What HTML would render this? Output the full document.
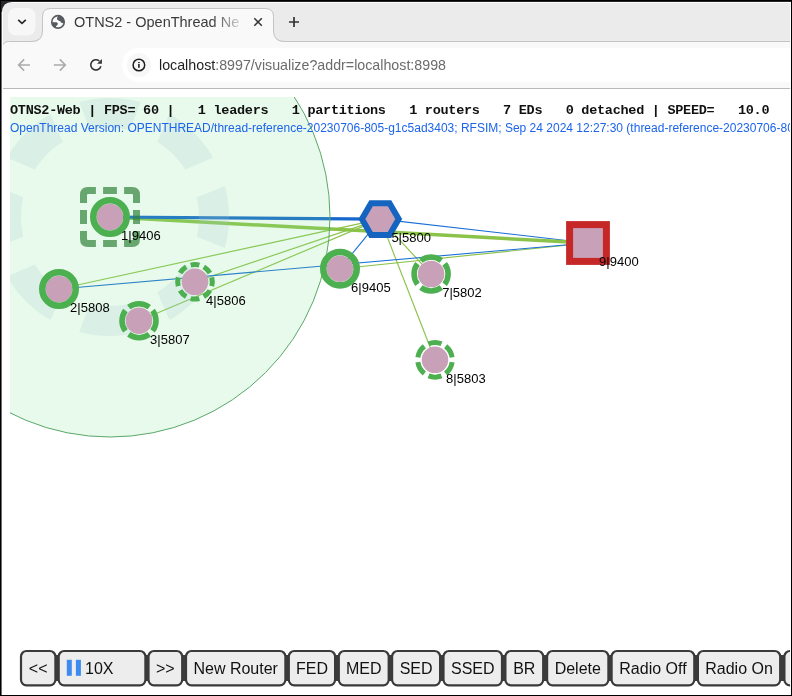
<!DOCTYPE html>
<html><head><meta charset="utf-8"><title>OTNS2</title>
<style>
html,body{margin:0;padding:0;width:792px;height:696px;overflow:hidden;background:#fff;}
svg{position:absolute;left:0;top:0;display:block;will-change:transform;}
text{font-family:"Liberation Sans",sans-serif;}
.mono{font-family:"Liberation Mono",monospace;font-weight:bold;}
</style></head><body>
<svg width="792" height="696" viewBox="0 0 792 696">
<!-- ===== window frame / tab strip ===== -->
<rect x="0" y="0" width="792" height="696" fill="#000"/>
<rect x="2" y="2" width="789" height="693" fill="#fff"/>
<rect x="2" y="2" width="789" height="40" fill="#ebebeb"/>

<!-- toolbar -->
<rect x="2" y="42" width="789" height="46" fill="#f9f9f9"/>
<rect x="2" y="88" width="789" height="1" fill="#b9b9b9"/>
<!-- active tab -->
<path d="M2 43 L2 48 Q2.5 42 8.5 42 Z" fill="#ebebeb"/>
<path d="M30 43 Q42.5 43 42.5 31 L42.5 16.5 Q42.5 8.5 50.5 8.5 L265.5 8.5 Q273.5 8.5 273.5 16.5 L273.5 31 Q273.5 43 286 43 Z" fill="#f9f9f9"/>
<path d="M2 48 Q2.5 41.5 8.5 41.5 L31 41.5 Q42.5 41.5 42.5 31 L42.5 16.5 Q42.5 8.5 50.5 8.5 L265.5 8.5 Q273.5 8.5 273.5 16.5 L273.5 31 Q273.5 41.5 285 41.5 L791 41.5" fill="none" stroke="#c4c4c4" stroke-width="1"/>
<!-- dropdown button -->
<rect x="8" y="8" width="27.5" height="27.5" rx="8" fill="#f7f7f7"/>
<path d="M18.2 19.8 L22 23.4 L25.8 19.8" fill="none" stroke="#2b2b2b" stroke-width="1.7"/>
<!-- globe -->
<clipPath id="gclip"><circle cx="58" cy="21.9" r="6.4"/></clipPath>
<circle cx="58" cy="21.9" r="6.25" fill="none" stroke="#575b61" stroke-width="1.6"/>
<g clip-path="url(#gclip)" fill="#575b61">
<path d="M58.8 14.5 L57 18.2 Q56.8 20 58.5 20.6 L60.2 21.3 Q60.6 22.9 62.9 23.3 L66 22.6 L66 14 Z"/>
<path d="M50 22.2 L56.6 22.2 Q58.6 23.4 57.4 25 Q55.6 26 55.6 27.6 L55.8 30 L50 30 Z"/>
</g>
<defs><linearGradient id="fade" gradientUnits="userSpaceOnUse" x1="212" y1="0" x2="244" y2="0"><stop offset="0" stop-color="#3a3a3a"/><stop offset="1" stop-color="#3a3a3a" stop-opacity="0.08"/></linearGradient></defs><text x="74" y="27" font-size="14.5" fill="url(#fade)">OTNS2 - OpenThread Ne</text>
<rect x="232" y="10" width="40" height="30" fill="#f9f9f9" opacity="0"/>
<path d="M254.3 18.2 L261.8 25.7 M261.8 18.2 L254.3 25.7" stroke="#333" stroke-width="1.5"/>
<path d="M294 17 L294 27 M289 22 L299 22" stroke="#333" stroke-width="1.7"/>
<!-- nav icons -->
<path d="M18.6 65 L30 65 M24.1 59.4 L18.6 65 L24.1 70.6" fill="none" stroke="#ababab" stroke-width="1.6"/>
<path d="M53.9 65 L65.3 65 M59.8 59.4 L65.3 65 L59.8 70.6" fill="none" stroke="#ababab" stroke-width="1.6"/>
<path d="M100.87 66.28 A5.15 5.15 0 1 1 99.3 61" fill="none" stroke="#333" stroke-width="1.6"/>
<path d="M101.9 58.9 L101.9 63.7 L97.1 63.7 Z" fill="#333"/>
<!-- omnibox -->
<rect x="122" y="48" width="667" height="34" rx="17" fill="#ffffff"/><rect x="760" y="48" width="31" height="34" fill="#ffffff"/>
<circle cx="139" cy="65" r="12" fill="#f7f7f7"/>
<circle cx="138.9" cy="65" r="5.8" fill="none" stroke="#1f1f1f" stroke-width="1.5"/>
<rect x="138.1" y="64" width="1.6" height="3.8" fill="#1f1f1f"/>
<rect x="138.1" y="62" width="1.6" height="1.1" fill="#1f1f1f"/>
<text x="159" y="70" font-size="15" fill="#1f1f1f" textLength="287" lengthAdjust="spacingAndGlyphs">localhost<tspan fill="#6b6b6b">:8997/visualize?addr=localhost:8998</tspan></text>

<!-- ===== canvas ===== -->
<defs>
<clipPath id="cc"><rect x="10" y="97" width="781" height="598"/></clipPath>
<filter id="soft" x="-10%" y="-10%" width="120%" height="120%"><feGaussianBlur stdDeviation="0.5"/></filter>
</defs>
<!-- links -->
<g id="links" fill="none">
<line x1="59" y1="289" x2="380.3" y2="219.1" stroke="#8bc34a" stroke-width="1.15"/>
<line x1="195" y1="281.8" x2="380.3" y2="219.1" stroke="#8bc34a" stroke-width="1.15"/>
<line x1="139" y1="320.7" x2="380.3" y2="219.1" stroke="#8bc34a" stroke-width="1.15"/>
<line x1="340" y1="268.7" x2="588" y2="243" stroke="#8bc34a" stroke-width="1.15"/>
<line x1="380.3" y1="219.1" x2="431.1" y2="274" stroke="#8bc34a" stroke-width="1.15"/>
<line x1="380.3" y1="219.1" x2="435" y2="359.8" stroke="#8bc34a" stroke-width="1.15"/>
<line x1="59" y1="289" x2="588" y2="243" stroke="#1a6fd6" stroke-width="1.1"/>
<line x1="380.3" y1="219.1" x2="588" y2="243" stroke="#1a6fd6" stroke-width="1.1"/>
<line x1="380.3" y1="219.1" x2="340" y2="268.7" stroke="#1a6fd6" stroke-width="1.1"/>
<line x1="110" y1="217" x2="588" y2="243" stroke="#8bc34a" stroke-width="3.5"/>
<line x1="110" y1="217" x2="380.3" y2="219.1" stroke="rgb(21,103,205)" stroke-width="3.2"/>
</g>
<g clip-path="url(#cc)">
<circle cx="110" cy="217" r="220" fill="rgb(127,227,144)" fill-opacity="0.18" stroke="#5aa86a" stroke-width="1"/>
<g id="ring" fill="rgb(161,194,204)" fill-opacity="0.2" filter="url(#soft)">
<path d="M196.79 236.72 L224.95 247.8 A119 119 0 0 0 224.95 186.2 L196.79 197.28 A89 89 0 0 1 196.79 236.72Z"/>
<path d="M185.31 169.57 L213.06 157.5 A119 119 0 0 0 169.5 113.94 L157.43 141.69 A89 89 0 0 1 185.31 169.57Z"/>
<path d="M129.72 130.21 L140.8 102.05 A119 119 0 0 0 79.2 102.05 L90.28 130.21 A89 89 0 0 1 129.72 130.21Z"/>
<path d="M62.57 141.69 L50.5 113.94 A119 119 0 0 0 6.94 157.5 L34.69 169.57 A89 89 0 0 1 62.57 141.69Z"/>
<path d="M23.21 197.28 L-4.95 186.2 A119 119 0 0 0 -4.95 247.8 L23.21 236.72 A89 89 0 0 1 23.21 197.28Z"/>
<path d="M34.69 264.43 L6.94 276.5 A119 119 0 0 0 50.5 320.06 L62.57 292.31 A89 89 0 0 1 34.69 264.43Z"/>
<path d="M90.28 303.79 L79.2 331.95 A119 119 0 0 0 140.8 331.95 L129.72 303.79 A89 89 0 0 1 90.28 303.79Z"/>
<path d="M157.43 292.31 L169.5 320.06 A119 119 0 0 0 213.06 276.5 L185.31 264.43 A89 89 0 0 1 157.43 292.31Z"/>
</g>
</g>
<!-- nodes -->
<g id="nodes">
<circle cx="110" cy="217" r="13.3" fill="#c8a0b8"/><circle cx="110" cy="217" r="16.7" fill="none" stroke="#4caf50" stroke-width="6.6"/>
<g fill="none" stroke="#31833b" stroke-width="7" opacity="0.7"><path d="M83.5 202.9 L83.5 195 Q83.5 190.5 88 190.5 L95.9 190.5"/><path d="M124.1 190.5 L132 190.5 Q136.5 190.5 136.5 195 L136.5 202.9"/><path d="M136.5 231.1 L136.5 239 Q136.5 243.5 132 243.5 L124.1 243.5"/><path d="M95.9 243.5 L88 243.5 Q83.5 243.5 83.5 239 L83.5 231.1"/><path d="M103.1 190.5 L116.9 190.5 M103.1 243.5 L116.9 243.5 M83.5 210.1 L83.5 223.9 M136.5 210.1 L136.5 223.9"/></g>
<circle cx="59" cy="289" r="13.3" fill="#c8a0b8"/><circle cx="59" cy="289" r="16.7" fill="none" stroke="#4caf50" stroke-width="6.6"/>
<circle cx="139" cy="320.7" r="13.3" fill="#c8a0b8"/><path d="M152.58 330.93 A17.0 17.0 0 0 0 152.58 310.47 M149.23 307.12 A17.0 17.0 0 0 0 128.77 307.12 M125.42 310.47 A17.0 17.0 0 0 0 125.42 330.93 M128.77 334.28 A17.0 17.0 0 0 0 149.23 334.28 " fill="none" stroke="#4caf50" stroke-width="5.6"/>
<circle cx="195" cy="281.8" r="13.3" fill="#c8a0b8"/><path d="M211.75 286.13 A17.3 17.3 0 0 0 211.75 277.47 M209.91 273.02 A17.3 17.3 0 0 0 203.78 266.89 M199.33 265.05 A17.3 17.3 0 0 0 190.67 265.05 M186.22 266.89 A17.3 17.3 0 0 0 180.09 273.02 M178.25 277.47 A17.3 17.3 0 0 0 178.25 286.13 M180.09 290.58 A17.3 17.3 0 0 0 186.22 296.71 M190.67 298.55 A17.3 17.3 0 0 0 199.33 298.55 M203.78 296.71 A17.3 17.3 0 0 0 209.91 290.58 " fill="none" stroke="#4caf50" stroke-width="5.0"/>
<circle cx="340" cy="268.7" r="13.3" fill="#c8a0b8"/><circle cx="340" cy="268.7" r="16.7" fill="none" stroke="#4caf50" stroke-width="6.6"/>
<circle cx="431.1" cy="274" r="13.3" fill="#c8a0b8"/><path d="M444.68 284.23 A17.0 17.0 0 0 0 444.68 263.77 M441.33 260.42 A17.0 17.0 0 0 0 420.87 260.42 M417.52 263.77 A17.0 17.0 0 0 0 417.52 284.23 M420.87 287.58 A17.0 17.0 0 0 0 441.33 287.58 " fill="none" stroke="#4caf50" stroke-width="5.6"/>
<circle cx="435" cy="359.8" r="13.3" fill="#c8a0b8"/><path d="M452.13 357.39 A17.3 17.3 0 0 0 445.65 346.17 M441.48 343.76 A17.3 17.3 0 0 0 428.52 343.76 M424.35 346.17 A17.3 17.3 0 0 0 417.87 357.39 M417.87 362.21 A17.3 17.3 0 0 0 424.35 373.43 M428.52 375.84 A17.3 17.3 0 0 0 441.48 375.84 M445.65 373.43 A17.3 17.3 0 0 0 452.13 362.21 " fill="none" stroke="#4caf50" stroke-width="5.0"/>
<polygon points="398.7,219.1 389.5,235.03 371.1,235.03 361.9,219.1 371.1,203.17 389.5,203.17" fill="#c8a0b8" stroke="#1565c0" stroke-width="6.0" stroke-linejoin="miter"/>
<rect x="569.6" y="224.6" width="36.8" height="36.8" fill="#c8a0b8" stroke="#c62828" stroke-width="7"/>
<text x="121.1" y="239.8" font-size="13" fill="#000">1|9406</text>
<text x="70.1" y="311.8" font-size="13" fill="#000">2|5808</text>
<text x="150.1" y="343.5" font-size="13" fill="#000">3|5807</text>
<text x="206.1" y="304.6" font-size="13" fill="#000">4|5806</text>
<text x="391.4" y="241.9" font-size="13" fill="#000">5|5800</text>
<text x="351.1" y="291.5" font-size="13" fill="#000">6|9405</text>
<text x="442.2" y="296.8" font-size="13" fill="#000">7|5802</text>
<text x="446.1" y="382.6" font-size="13" fill="#000">8|5803</text>
<text x="599.1" y="265.8" font-size="13" fill="#000">9|9400</text>
</g>
<!-- status text -->
<text x="10" y="114" class="mono" font-size="13.5" fill="#111" xml:space="preserve" textLength="759.5" lengthAdjust="spacing">OTNS2-Web | FPS= 60 |   1 leaders   1 partitions   1 routers   7 EDs   0 detached | SPEED=   10.0</text>
<text x="10" y="132" font-size="12" fill="#1c64ec">OpenThread Version: OPENTHREAD/thread-reference-20230706-805-g1c5ad3403; RFSIM; Sep 24 2024 12:27:30 (thread-reference-20230706-805-g1c5ad3403)</text>
<!-- buttons -->
<g id="buttons">
<rect x="54.9" y="655" width="4.3" height="26" fill="#3c3c3c"/>
<rect x="144.9" y="655" width="4.1" height="26" fill="#3c3c3c"/>
<rect x="181.7" y="655" width="4.8" height="26" fill="#3c3c3c"/>
<rect x="284.9" y="655" width="4.4" height="26" fill="#3c3c3c"/>
<rect x="334.6" y="655" width="4.7" height="26" fill="#3c3c3c"/>
<rect x="388.2" y="655" width="4.4" height="26" fill="#3c3c3c"/>
<rect x="439.6" y="655" width="4.4" height="26" fill="#3c3c3c"/>
<rect x="501.5" y="655" width="4.4" height="26" fill="#3c3c3c"/>
<rect x="542.7" y="655" width="4.9" height="26" fill="#3c3c3c"/>
<rect x="607.9" y="655" width="4.2" height="26" fill="#3c3c3c"/>
<rect x="693.8" y="655" width="4.6" height="26" fill="#3c3c3c"/>
<rect x="779.7" y="655" width="5.2" height="26" fill="#3c3c3c"/>
<rect x="21" y="651" width="34.4" height="34.3" rx="5.5" fill="#ededed" stroke="#3a3a3a" stroke-width="2.2"/>
<text x="38.2" y="674" font-size="16" fill="#111" text-anchor="middle">&lt;&lt;</text>
<rect x="58.7" y="651" width="86.7" height="34.3" rx="5.5" fill="#ededed" stroke="#3a3a3a" stroke-width="2.2"/>
<rect x="66.8" y="659.8" width="5" height="16" fill="#3d8bf0"/><rect x="75.9" y="659.8" width="5" height="16" fill="#3d8bf0"/>
<text x="85" y="674" font-size="16" fill="#111">10X</text>
<rect x="148.5" y="651" width="33.7" height="34.3" rx="5.5" fill="#ededed" stroke="#3a3a3a" stroke-width="2.2"/>
<text x="165.35" y="674" font-size="16" fill="#111" text-anchor="middle">&gt;&gt;</text>
<rect x="186" y="651" width="99.4" height="34.3" rx="5.5" fill="#ededed" stroke="#3a3a3a" stroke-width="2.2"/>
<text x="235.7" y="674" font-size="16" fill="#111" text-anchor="middle">New Router</text>
<rect x="288.8" y="651" width="46.3" height="34.3" rx="5.5" fill="#ededed" stroke="#3a3a3a" stroke-width="2.2"/>
<text x="311.95" y="674" font-size="16" fill="#111" text-anchor="middle">FED</text>
<rect x="338.8" y="651" width="49.9" height="34.3" rx="5.5" fill="#ededed" stroke="#3a3a3a" stroke-width="2.2"/>
<text x="363.75" y="674" font-size="16" fill="#111" text-anchor="middle">MED</text>
<rect x="392.1" y="651" width="48" height="34.3" rx="5.5" fill="#ededed" stroke="#3a3a3a" stroke-width="2.2"/>
<text x="416.1" y="674" font-size="16" fill="#111" text-anchor="middle">SED</text>
<rect x="443.5" y="651" width="58.5" height="34.3" rx="5.5" fill="#ededed" stroke="#3a3a3a" stroke-width="2.2"/>
<text x="472.75" y="674" font-size="16" fill="#111" text-anchor="middle">SSED</text>
<rect x="505.4" y="651" width="37.8" height="34.3" rx="5.5" fill="#ededed" stroke="#3a3a3a" stroke-width="2.2"/>
<text x="524.3" y="674" font-size="16" fill="#111" text-anchor="middle">BR</text>
<rect x="547.1" y="651" width="61.3" height="34.3" rx="5.5" fill="#ededed" stroke="#3a3a3a" stroke-width="2.2"/>
<text x="577.75" y="674" font-size="16" fill="#111" text-anchor="middle">Delete</text>
<rect x="611.6" y="651" width="82.7" height="34.3" rx="5.5" fill="#ededed" stroke="#3a3a3a" stroke-width="2.2"/>
<text x="652.95" y="674" font-size="16" fill="#111" text-anchor="middle">Radio Off</text>
<rect x="697.9" y="651" width="82.3" height="34.3" rx="5.5" fill="#ededed" stroke="#3a3a3a" stroke-width="2.2"/>
<text x="739.05" y="674" font-size="16" fill="#111" text-anchor="middle">Radio On</text>
<rect x="784.4" y="651" width="74.6" height="34.3" rx="5.5" fill="#ededed" stroke="#3a3a3a" stroke-width="2.2"/>
</g>
<!-- frame lines on top -->
<rect x="2" y="2" width="789" height="1" fill="#fdfdfd"/>
<rect x="2" y="2" width="1" height="693" fill="#fdfdfd"/>
<rect x="790" y="2" width="1" height="693" fill="#fdfdfd"/>
<path d="M0 0 L12 0 L12 2 Q2.5 2 2 12 L0 12 Z" fill="#26262a"/>
<rect x="1" y="12" width="1" height="684" fill="#6e6e72"/>
<rect x="0" y="1" width="792" height="1" fill="#262628"/>
<rect x="0" y="0" width="1" height="696" fill="#000"/>
<rect x="791" y="0" width="1" height="696" fill="#000"/>
<rect x="0" y="695" width="792" height="1" fill="#000"/>
<rect x="0" y="0" width="792" height="1" fill="#000"/>
</svg>
</body></html>
